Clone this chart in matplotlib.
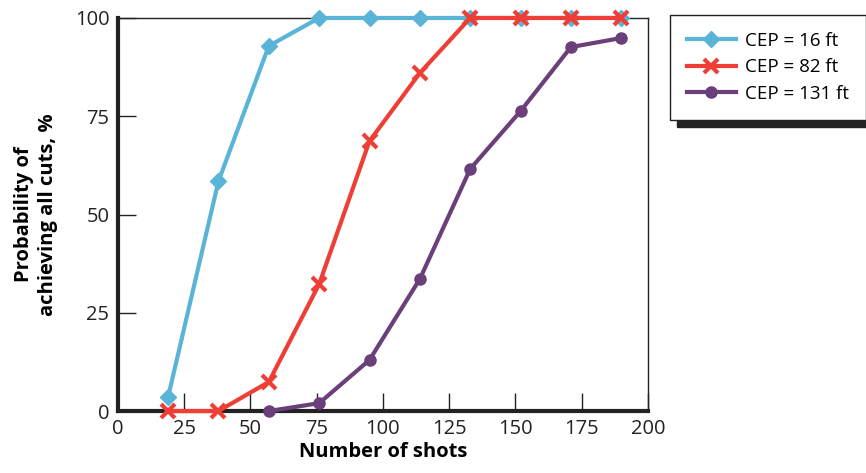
import matplotlib.pyplot as plt

plt.rcParams['font.family'] = ['Open Sans', 'DejaVu Sans']

shots = [19, 38, 57, 76, 95, 114, 133, 152, 171, 190]
cep16 = [3.6, 58.5, 92.9, 100, 100, 100, 100, 100, 100, 100]
cep82 = [0, 0, 7.4, 32.3, 68.7, 86, 100, 100, 100, 100]
shots131 = [57, 76, 95, 114, 133, 152, 171, 190]
cep131 = [0, 2, 13, 33.6, 61.6, 76.3, 92.6, 94.9]

labels = ["CEP = 16 ft", "CEP = 82 ft", "CEP = 131 ft"]
xticks = [0, 25, 50, 75, 100, 125, 150, 175, 200]
yticks = [0, 25, 50, 75, 100]

fig = plt.figure(figsize=(8.66, 4.73), dpi=100)
ax = fig.add_axes([0.136, 0.131, 0.612, 0.831])

ax.plot(shots, cep16, color="#5ab4d8", lw=3, marker="D", ms=8,
        label=labels[0], clip_on=False, zorder=3)
ax.plot(shots, cep82, color="#ee3e36", lw=3, marker="x", ms=10, mew=3,
        label=labels[1], clip_on=False, zorder=4)
ax.plot(shots131, cep131, color="#6a3f7a", lw=3, marker="o", ms=8,
        label=labels[2], clip_on=False, zorder=3)

ax.set_xlim(0, 200)
ax.set_ylim(0, 100)
ax.set_xticks(xticks)
ax.set_yticks(yticks)
ax.tick_params(direction="in", length=13, width=1, labelsize=14.5,
               colors="#222222", pad=6)

for s in ["left", "bottom"]:
    ax.spines[s].set_linewidth(3)
    ax.spines[s].set_color("#222222")
for s in ["top", "right"]:
    ax.spines[s].set_linewidth(1)
    ax.spines[s].set_color("#222222")

ax.set_xlabel("Number of shots", fontsize=14.5, fontweight="bold", labelpad=2)
ax.set_ylabel("Probability of\nachieving all cuts, %", fontsize=14.5,
              fontweight="bold", labelpad=12, linespacing=1.3)

leg = ax.legend(loc="upper left", bbox_to_anchor=(670/866, 1-15/473),
                bbox_transform=fig.transFigure, borderaxespad=0,
                fontsize=13.5, frameon=True, fancybox=False,
                edgecolor="#222222", handlelength=2.6, handletextpad=0.5,
                borderpad=0.9, labelspacing=0.45,
                shadow={"color": "#222222", "alpha": 1, "ox": 5, "oy": -5})
leg.get_frame().set_linewidth(1)

fig.savefig("out.png", dpi=100)
